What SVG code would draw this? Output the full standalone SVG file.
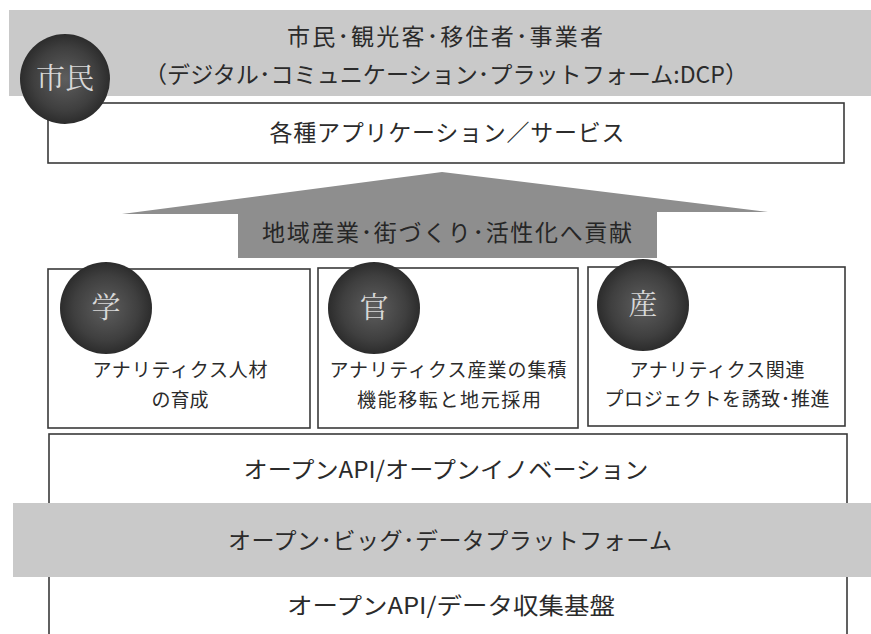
<svg xmlns="http://www.w3.org/2000/svg" width="871" height="634" viewBox="0 0 871 634">
<defs>
<radialGradient id="ball" cx="50%" cy="50%" r="50%">
<stop offset="0" stop-color="#5e5e5e"/>
<stop offset="0.7" stop-color="#3f3f3f"/>
<stop offset="1" stop-color="#2c2c2c"/>
</radialGradient>
<style>
.t{font-family:"Noto Sans CJK JP","Noto Sans",sans-serif;fill:#2b2b2b;text-anchor:middle}
.big{font-size:23px}
.mid{font-size:19px}
.box{fill:#fff;stroke:#3a3a3a;stroke-width:1.6}
.band{fill:#c9c9c9}
.ball{fill:url(#ball)}
.bl{font-family:"Noto Serif CJK JP","Liberation Serif","Noto Sans CJK JP",serif;fill:#d8d8d8;text-anchor:middle;font-size:29px}
</style>
</defs>
<rect width="871" height="634" fill="#fff"/>

<g id="citizens">
<rect class="band" x="9" y="10" width="862" height="86"/>
<text class="t big" x="445" y="45" textLength="316" lengthAdjust="spacing">市民･観光客･移住者･事業者</text>
<text class="t big" x="446" y="83" textLength="604" lengthAdjust="spacingAndGlyphs">（デジタル･コミュニケーション･プラットフォーム:DCP）</text>
</g>

<g id="apps">
<rect class="box" x="48" y="103" width="796" height="60"/>
<text class="t big" x="447" y="141" textLength="355" lengthAdjust="spacing">各種アプリケーション／サービス</text>
</g>

<g id="shimin-ball">
<circle class="ball" cx="65" cy="79" r="45"/>
<text class="bl" x="65" y="89">市民</text>
</g>

<g id="connectors">
<g id="contribution-arrow">
<polygon points="122,214 442,172 768,212 657,212 657,258 238,258 238,214" fill="#8e8e8e"/>
<text class="t big" x="447" y="241" textLength="370" lengthAdjust="spacing" style="fill:#262626">地域産業･街づくり･活性化へ貢献</text>
</g>
</g>

<g id="gaku">
<rect class="box" x="48" y="269" width="262" height="159"/>
<circle class="ball" cx="106" cy="308" r="46"/>
<text class="bl" x="106" y="318">学</text>
<text class="t mid" x="180" y="377" textLength="175" lengthAdjust="spacing">アナリティクス人材</text>
<text class="t mid" x="180" y="407">の育成</text>
</g>

<g id="kan">
<rect class="box" x="318" y="268" width="260" height="160"/>
<circle class="ball" cx="374" cy="308" r="46"/>
<text class="bl" x="374" y="318">官</text>
<text class="t mid" x="448" y="377" textLength="237" lengthAdjust="spacing">アナリティクス産業の集積</text>
<text class="t mid" x="449" y="407" textLength="184" lengthAdjust="spacing">機能移転と地元採用</text>
</g>

<g id="san">
<rect class="box" x="588" y="267" width="257" height="159"/>
<circle class="ball" cx="643" cy="305" r="46"/>
<text class="bl" x="643" y="315">産</text>
<text class="t mid" x="717" y="377" textLength="175" lengthAdjust="spacing">アナリティクス関連</text>
<text class="t mid" x="717" y="406" textLength="225" lengthAdjust="spacing">プロジェクトを誘致･推進</text>
</g>

<g id="platform">
<rect class="box" x="49" y="434" width="798" height="210"/>
<text class="t big" x="446" y="478" textLength="405" lengthAdjust="spacingAndGlyphs">オープンAPI/オープンイノベーション</text>
<rect class="band" x="13" y="503" width="858" height="74"/>
<text class="t big" x="450" y="549" textLength="444" lengthAdjust="spacing">オープン･ビッグ･データプラットフォーム</text>
<text class="t big" x="451" y="614" textLength="328" lengthAdjust="spacingAndGlyphs">オープンAPI/データ収集基盤</text>
</g>
</svg>
